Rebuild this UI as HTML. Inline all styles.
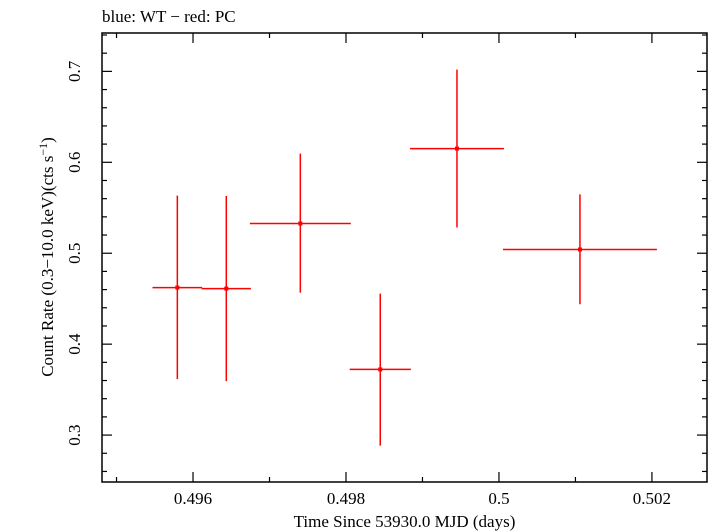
<!DOCTYPE html>
<html><head><meta charset="utf-8"><style>
html,body{margin:0;padding:0;background:#fff;}
svg{display:block;font-family:"Liberation Serif",serif;}
</style></head><body>
<svg id="chart" width="709" height="532" viewBox="0 0 709 532" xmlns="http://www.w3.org/2000/svg">
<text x="102" y="22" font-size="17">blue: WT − red: PC</text>
<rect x="102" y="33" width="605" height="449" fill="none" stroke="#000" stroke-width="1.5"/>
<g id="axes"></g>
<g id="series"></g>
<text x="404.5" y="527" font-size="17" text-anchor="middle">Time Since 53930.0 MJD (days)</text>
<text transform="translate(53,257) rotate(-90)" font-size="17" text-anchor="middle">Count Rate (0.3−10.0 keV)(cts s<tspan dy="-6" font-size="12">−1</tspan><tspan dy="6">)</tspan></text>
</svg>
<script>
const xVals=[0.495795,0.496435,0.497403,0.498448,0.499451,0.501059];
const xErr=[0.000325,0.000322,0.00066,0.0004,0.000614,0.001006];
const yVals=[0.4622,0.4611,0.5327,0.3722,0.6151,0.5041];
const yHi=[0.5633,0.5630,0.6096,0.4556,0.7019,0.5647];
const yLo=[0.3615,0.3593,0.4567,0.2884,0.5283,0.4439];
const xTicks=[0.496,0.498,0.5,0.502];
const xTickLabels=["0.496","0.498","0.5","0.502"];
const yTicks=[0.3,0.4,0.5,0.6,0.7];
const yTickLabels=["0.3","0.4","0.5","0.6","0.7"];
const L=102,R=707,T=33,B=482;
const xMin=0.49481,xMax=0.50272,yMin=0.2484,yMax=0.7422;
const sx=v=>L+(v-xMin)/(xMax-xMin)*(R-L);
const sy=v=>B-(v-yMin)/(yMax-yMin)*(B-T);
const NS="http://www.w3.org/2000/svg";
const axes=document.getElementById('axes'),ser=document.getElementById('series');
function line(p,x1,y1,x2,y2,c,w){const e=document.createElementNS(NS,'line');e.setAttribute('x1',x1);e.setAttribute('y1',y1);e.setAttribute('x2',x2);e.setAttribute('y2',y2);e.setAttribute('stroke',c);e.setAttribute('stroke-width',w);p.appendChild(e);return e;}
for(let k=0;k<=8;k++){const v=0.495+k*0.001;if(v>xMax)break;const x=sx(v);const maj=Math.abs((v*1000)%2)<0.01||Math.abs((v*1000)%2-2)<0.01;const len=maj?10:5;
const t1=line(axes,x,B,x,B-len,'#000',1.2);


const t2=line(axes,x,T,x,T+len,'#000',1.2);

}
xTicks.forEach((v,i)=>{const t=document.createElementNS(NS,'text');t.setAttribute('x',sx(v));t.setAttribute('y',B+22);t.setAttribute('font-size','17');t.setAttribute('text-anchor','middle');t.textContent=xTickLabels[i];


axes.appendChild(t);});
for(let k=0;k<=25;k++){const v=0.26+k*0.02;if(v>yMax)break;const y=sy(v);const maj=Math.abs(Math.round(v*10)-v*10)<0.01;const len=maj?10:5;
const t1=line(axes,L,y,L+len,y,'#000',1.2);


const t2=line(axes,R,y,R-len,y,'#000',1.2);

}
yTicks.forEach((v,i)=>{const t=document.createElementNS(NS,'text');t.setAttribute('transform','translate(80,'+sy(v)+') rotate(-90)');t.setAttribute('font-size','17');t.setAttribute('text-anchor','middle');t.textContent=yTickLabels[i];


axes.appendChild(t);});
xVals.forEach((v,i)=>{const g=document.createElementNS(NS,'g');


line(g,sx(v-xErr[i]),sy(yVals[i]),sx(v+xErr[i]),sy(yVals[i]),'#f00',1.5);
line(g,sx(v),sy(yHi[i]),sx(v),sy(yLo[i]),'#f00',1.5);
const c=document.createElementNS(NS,'rect');c.setAttribute('x',sx(v)-2);c.setAttribute('y',sy(yVals[i])-2);c.setAttribute('width',4);c.setAttribute('height',4);c.setAttribute('fill','#f00');g.appendChild(c);
ser.appendChild(g);});
</script>
</body></html>
